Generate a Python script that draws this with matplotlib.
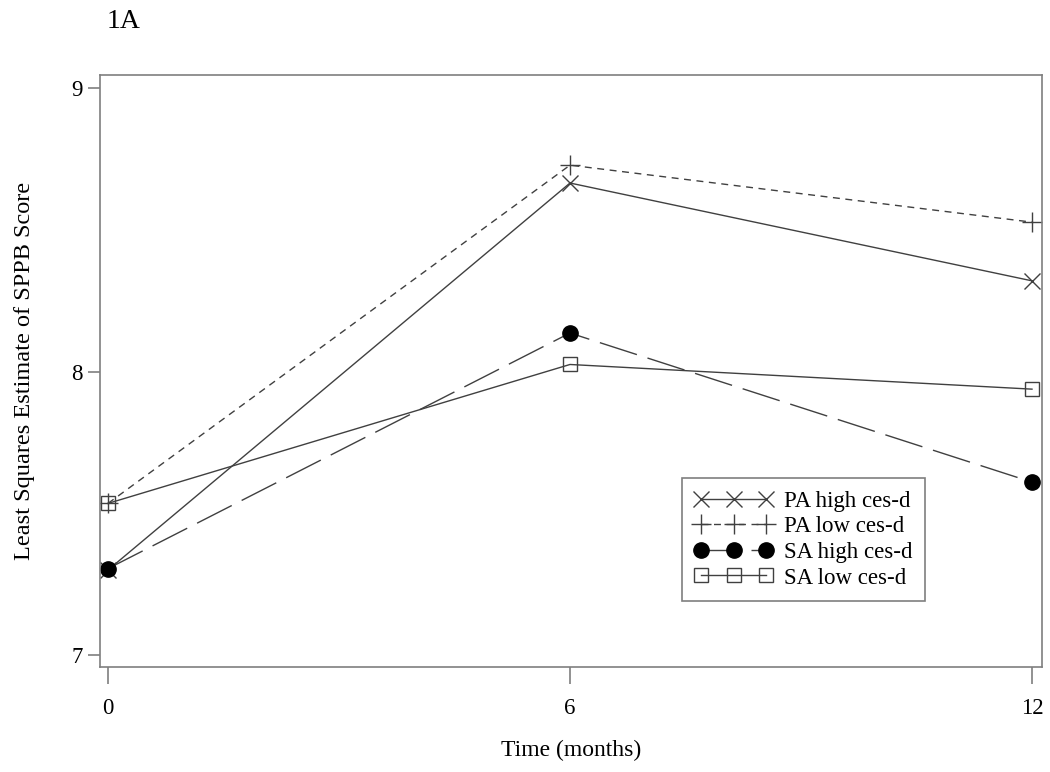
import matplotlib
matplotlib.use("Agg")
import matplotlib.pyplot as plt

months = [0, 6, 12]
pa_high = [7.30, 8.665, 8.32]
pa_low = [7.535, 8.728, 8.527]
sa_high = [7.305, 8.136, 7.61]
sa_low = [7.535, 8.025, 7.938]

plt.rcParams["font.family"] = ["Liberation Serif", "DejaVu Serif"]

line_col = "#404040"
spine_col = "#7f7f7f"

fig = plt.figure(figsize=(10.5, 7.72), dpi=100)
ax = fig.add_axes([100 / 1050, 1 - 667 / 772, 942 / 1050, 592 / 772])

ax.plot(months, pa_high, color=line_col, lw=1.0, marker="x", ms=12, mew=1.0,
        label="PA high ces-d")
ax.plot(months, pa_low, color=line_col, lw=1.0, marker="+", ms=14, mew=1.0,
        dashes=(5, 4), label="PA low ces-d")
ax.plot(months, sa_high, color=line_col, lw=1.0, marker="o", ms=11,
        mfc="black", mec="black", dashes=(28, 8), label="SA high ces-d")
ax.plot(months, sa_low, color=line_col, lw=1.0, marker="s", ms=10,
        mfc="none", mec=line_col, mew=1.0, label="SA low ces-d")

ax.set_xlim(-0.104, 12.13)
ax.set_ylim(6.958, 9.046)
ax.set_xticks(months)
ax.set_yticks([7, 8, 9])
ax.tick_params(axis="both", colors=spine_col, labelcolor="black",
               labelsize=16.5, length=9, width=1.2)
ax.tick_params(axis="x", length=12, pad=10)
for s in ax.spines.values():
    s.set_color(spine_col)
    s.set_linewidth(1.2)

ax.set_xlabel("Time (months)", fontsize=17, labelpad=15)
ax.set_ylabel("Least Squares Estimate of SPPB Score", fontsize=17.5, labelpad=26)

fig.text(107 / 1050, 1 - 21 / 772, "1A", fontsize=20, va="center", ha="left")

leg = ax.legend(loc="upper left", bbox_to_anchor=(682 / 1050, 1 - 478 / 772),
                bbox_transform=fig.transFigure, numpoints=3, handlelength=3.4,
                fontsize=16.5, fancybox=False, framealpha=1, edgecolor=spine_col,
                borderpad=0.55, labelspacing=0.2, handletextpad=0.5,
                borderaxespad=0)
leg.get_frame().set_linewidth(1.2)

fig.savefig("out.png", dpi=100)
